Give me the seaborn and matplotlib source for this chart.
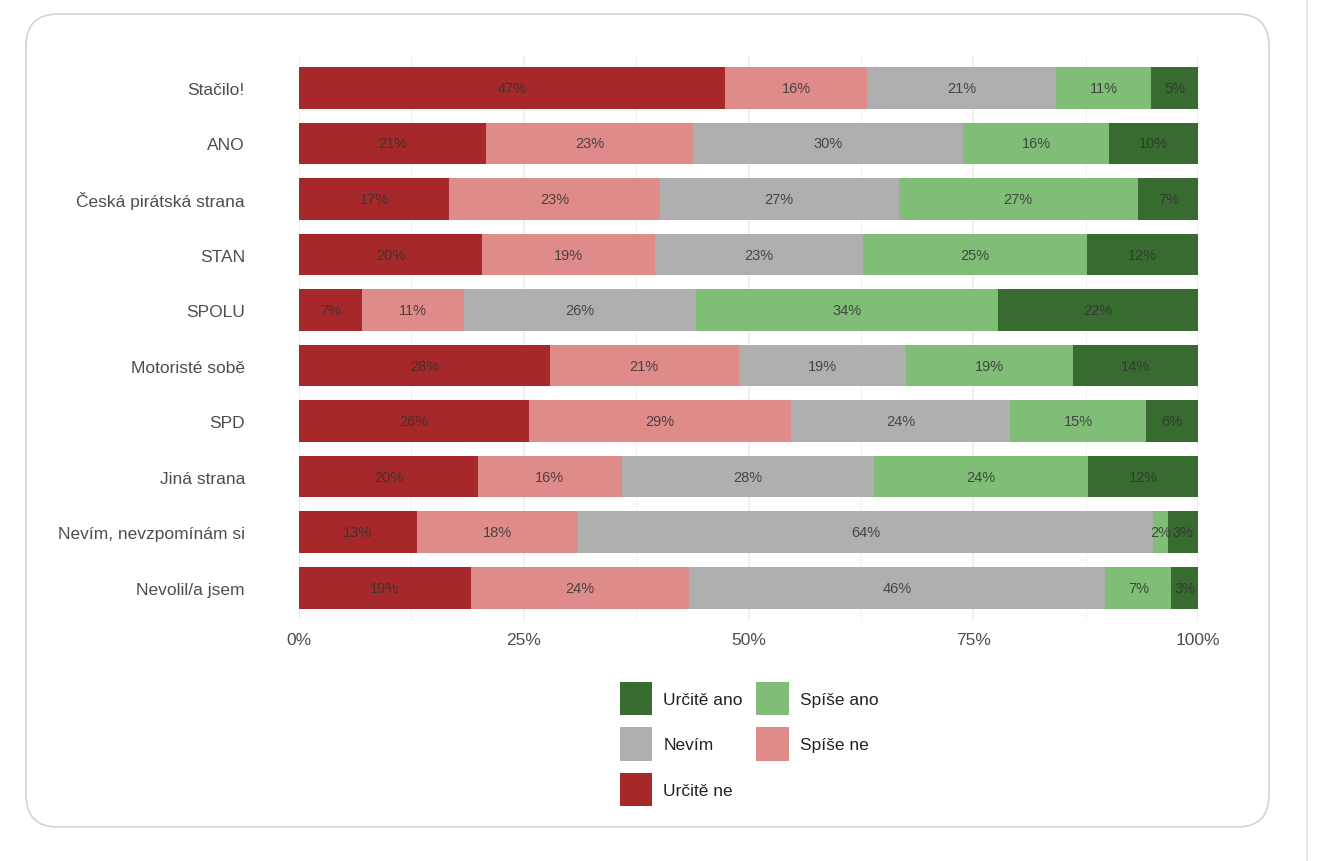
import pandas as pd
import matplotlib.pyplot as plt
import seaborn as sns
from matplotlib.patches import Patch, FancyBboxPatch
from matplotlib.lines import Line2D


parties = ["Stačilo!", "ANO", "Česká pirátská strana", "STAN", "SPOLU",
           "Motoristé sobě", "SPD", "Jiná strana", "Nevím, nevzpomínám si",
           "Nevolil/a jsem"]

# shares in %, left to right
urcite_ne = [47.4, 20.8, 16.7, 20.4, 7.0, 27.9, 25.6, 19.9, 13.1, 19.1]
spise_ne = [15.8, 23.0, 23.4, 19.2, 11.3, 21.0, 29.1, 16.0, 17.9, 24.3]
nevim = [21.0, 30.1, 26.6, 23.1, 25.8, 18.6, 24.4, 28.0, 64.0, 46.3]
spise_ano = [10.6, 16.2, 26.6, 24.9, 33.6, 18.6, 15.1, 23.9, 1.7, 7.3]
urcite_ano = [5.2, 9.9, 6.8, 12.4, 22.3, 13.9, 5.8, 12.2, 3.3, 3.0]

responses = ["Určitě ne", "Spíše ne", "Nevím", "Spíše ano", "Určitě ano"]
colors = {"Určitě ne": "#A7282A", "Spíše ne": "#DF8B8A", "Nevím": "#AFAFAF",
          "Spíše ano": "#80BE78", "Určitě ano": "#376B30"}

df = pd.DataFrame({"party": parties, "Určitě ne": urcite_ne, "Spíše ne": spise_ne,
                   "Nevím": nevim, "Spíše ano": spise_ano, "Určitě ano": urcite_ano})
cum = df[responses].cumsum(axis=1)

sns.set_style("white")
plt.rcParams["font.family"] = ["Liberation Sans", "DejaVu Sans"]

fig = plt.figure(figsize=(13.38, 8.62), dpi=100)
fig.add_artist(FancyBboxPatch((26, 34), 1243, 813, boxstyle="round,pad=0,rounding_size=32",
                              transform=None, facecolor="white", edgecolor="#d4d4d4",
                              linewidth=1.2, zorder=0))
fig.add_artist(Line2D([1307 / 1338] * 2, [0, 1], color="#e8e8e8", linewidth=1.5,
                      transform=fig.transFigure))

ax = fig.add_axes([0.2235, 0.2784, 0.6719, 0.6571])
ax.set_facecolor("none")

ax.set_xticks([12.5, 37.5, 62.5, 87.5], minor=True)
ax.grid(axis="x", which="major", color="#ebebeb", linewidth=1.1)
ax.grid(axis="x", which="minor", color="#f2f2f2", linewidth=0.8)
ax.set_axisbelow(True)

# draw cumulative totals from longest to shortest so each segment shows
for r in reversed(responses):
    sns.barplot(x=cum[r], y=df["party"], order=parties, color=colors[r],
                width=0.75, saturation=1, errorbar=None, linewidth=0, ax=ax)

for i in range(len(parties)):
    left = 0
    for r in responses:
        v = df[r][i]
        ax.text(left + v / 2, i, f"{v:.0f}%", ha="center", va="center",
                fontsize=10.5, color="#333333", alpha=0.85, zorder=3)
        left += v

ax.set_xlim(0, 100)
ax.set_ylim(len(parties) - 0.4, -0.6)
ax.set_xticks([0, 25, 50, 75, 100])
ax.set_xticklabels(["0%", "25%", "50%", "75%", "100%"])
ax.set_xlabel("")
ax.set_ylabel("")
sns.despine(ax=ax, left=True, bottom=True)
ax.tick_params(axis="y", length=0, pad=39, labelsize=12.5, labelcolor="#4d4d4d")
ax.tick_params(axis="x", which="both", length=0, pad=8, labelsize=12.5, labelcolor="#4d4d4d")

order = ["Určitě ano", "Nevím", "Určitě ne", "Spíše ano", "Spíše ne"]
handles = [Patch(facecolor=colors[r], edgecolor="none", label=r) for r in order]
fig.legend(handles=handles, loc="upper center", bbox_to_anchor=(749 / 1338, 1 - 674 / 862),
           ncol=2, frameon=False, fontsize=12.5, handlelength=1.9, handleheight=2.6,
           handletextpad=0.63, columnspacing=0.75, labelspacing=0.69, borderpad=0,
           labelcolor="#222222")

fig.savefig("out.png", dpi=100)
